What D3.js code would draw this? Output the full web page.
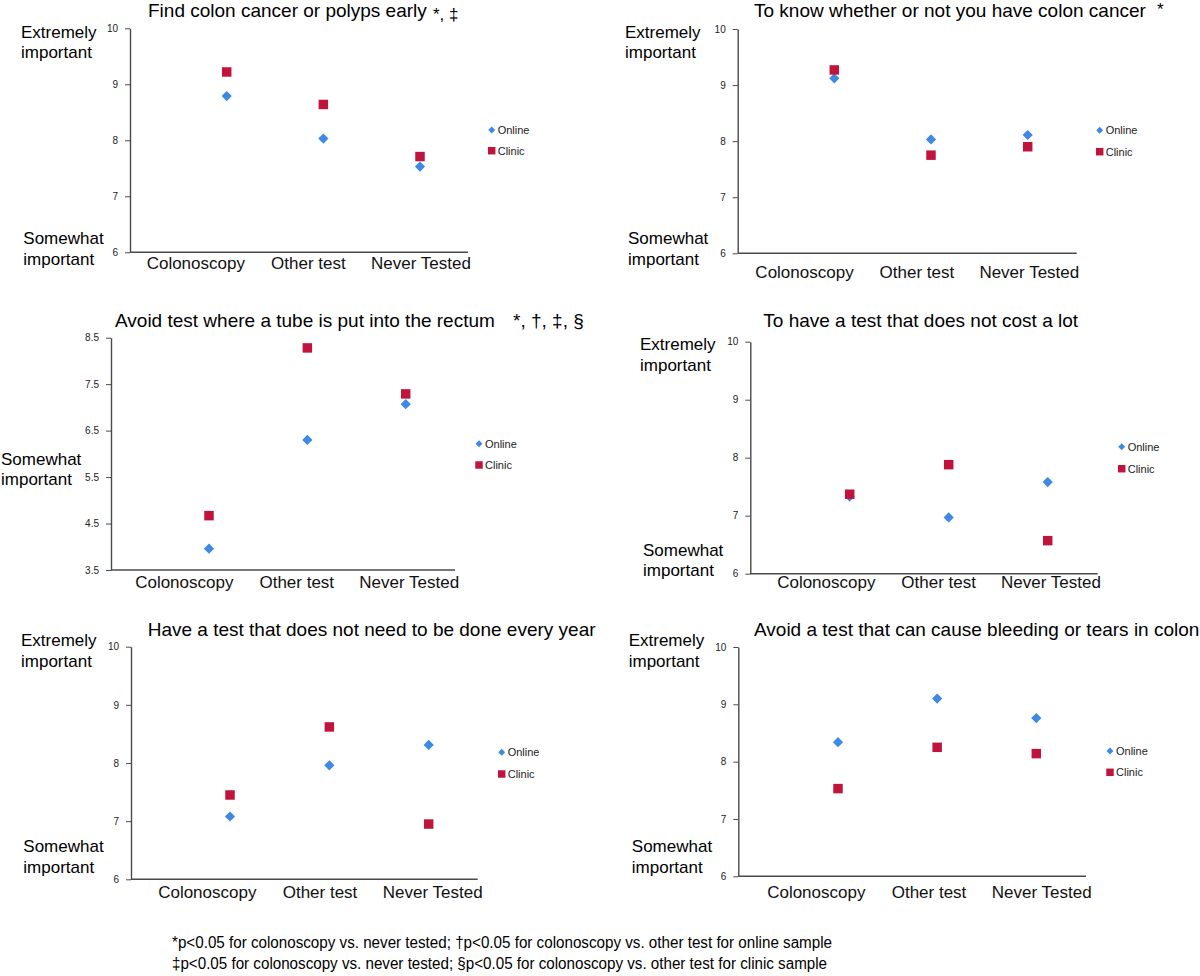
<!DOCTYPE html>
<html>
<head>
<meta charset="utf-8">
<script src="https://cdn.jsdelivr.net/npm/d3@7"></script>
<style>
  html, body { margin: 0; padding: 0; background: #fff; }
  svg { display: block; }
  text { font-family: "Liberation Sans", Arial, Helvetica, sans-serif; }
</style>
</head>
<body>
<svg id="chart" width="1200" height="976"></svg>
<script>
// ---------- data ----------
const categories = ["Colonoscopy", "Other test", "Never Tested"];
const seriesNames = ["Online", "Clinic"];

const titles = [
  "Find colon cancer or polyps early",
  "To know whether or not you have colon cancer",
  "Avoid test where a tube is put into the rectum",
  "To have a test that does not cost a lot",
  "Have a test that does not need to be done every year",
  "Avoid a test that can cause bleeding or tears in colon"
];
const titleMarks = ["*, \u2021", "*", "*, \u2020, \u2021, \u00a7", "", "", ""];

const online1 = [8.79, 8.03, 7.53];
const clinic1 = [9.22, 8.64, 7.71];
const online2 = [9.12, 8.03, 8.11];
const clinic2 = [9.27, 7.75, 7.90];
const online3 = [3.96, 6.30, 7.07];
const clinic3 = [4.67, 8.28, 7.29];
const online4 = [7.33, 6.97, 7.58];
const clinic4 = [7.37, 7.88, 6.57];
const online5 = [7.08, 7.96, 8.31];
const clinic5 = [7.45, 8.62, 6.95];
const online6 = [8.34, 9.10, 8.76];
const clinic6 = [7.53, 8.25, 8.14];

const ticksStandard = [6, 7, 8, 9, 10];
const ticksRectum = [3.5, 4.5, 5.5, 6.5, 7.5, 8.5];
const domainStandard = [6, 10];
const domainRectum = [3.5, 8.5];

const anchorTop = ["Extremely", "important"];
const anchorBottom = ["Somewhat", "important"];

const footnotes = [
  "*p<0.05 for colonoscopy vs. never tested; \u2020p<0.05 for colonoscopy vs. other test for online sample",
  "\u2021p<0.05 for colonoscopy vs. never tested; \u00a7p<0.05 for colonoscopy vs. other test for clinic sample"
];

// ---------- layout (positions / styles only) ----------
const layout = [
  { ax: 130,   top: 28.3,  bot: 252.3, end: 468,    pts: [226.7, 420],   lab: [195.3, 420.5], labY: 269,
    leg: [491.7, 130, 150.7], tx: 148, ty: 16.7, mx: 433, my: 20, msz: 17,
    ext: [21, 38.3, 58.3], som: [23.3, 244.3, 265] },
  { ax: 737.7, top: 29,    bot: 253.3, end: 1076.7, pts: [834.3, 1027.7], lab: [804, 1028.8], labY: 277.7,
    leg: [1099.7, 130.3, 151.7], tx: 754, ty: 16.5, mx: 1157, my: 15, msz: 17,
    ext: [625, 38, 58], som: [628, 244, 265] },
  { ax: 111,   top: 337.7, bot: 570,   end: 455,    pts: [209, 405.7],   lab: [183.8, 408.7], labY: 588,
    leg: [479, 443.7, 465], tx: 115, ty: 326.7, mx: 513, my: 326.7, msz: 19,
    ext: null, som: [1, 465, 485] },
  { ax: 750.3, top: 341.7, bot: 573.7, end: 1097.7, pts: [849.7, 1047.7], lab: [825.8, 1050.5], labY: 588.3,
    leg: [1121.7, 446.7, 468.7], tx: 763.3, ty: 326.7, mx: 0, my: 0, msz: 17,
    ext: [640, 350, 370.5], som: [643, 556, 576] },
  { ax: 131,   top: 646.7, bot: 879.3, end: 477.7,  pts: [230, 428.7],   lab: [206.8, 432.2], labY: 898.3,
    leg: [501.7, 752.3, 774], tx: 147.7, ty: 636, mx: 0, my: 0, msz: 17,
    ext: [21, 646, 666.7], som: [23.3, 852.3, 873.3] },
  { ax: 738.3, top: 647,   bot: 876.3, end: 1086,   pts: [838, 1036.3],  lab: [815.8, 1041.2], labY: 898.3,
    leg: [1110, 751, 772.3], tx: 754, ty: 636, mx: 0, my: 0, msz: 17,
    ext: [628.7, 646, 666.7], som: [631.8, 852, 873] }
];

const panels = [
  { online: online1, clinic: clinic1, domain: domainStandard, ticks: ticksStandard },
  { online: online2, clinic: clinic2, domain: domainStandard, ticks: ticksStandard },
  { online: online3, clinic: clinic3, domain: domainRectum,   ticks: ticksRectum },
  { online: online4, clinic: clinic4, domain: domainStandard, ticks: ticksStandard },
  { online: online5, clinic: clinic5, domain: domainStandard, ticks: ticksStandard },
  { online: online6, clinic: clinic6, domain: domainStandard, ticks: ticksStandard }
];

const BLUE = "#3d89e3";
const RED = "#c1143d";
const AXIS = "#4a4a4a";

// rotated-square diamond symbol (area = 2 r^2)
const diamondSym = {
  draw(ctx, size) {
    const r = Math.sqrt(size / 2);
    ctx.moveTo(0, -r); ctx.lineTo(r, 0); ctx.lineTo(0, r); ctx.lineTo(-r, 0); ctx.closePath();
  }
};

const svg = d3.select("#chart");

panels.forEach((p, i) => {
  const L = layout[i];
  const g = svg.append("g");

  const y = d3.scaleLinear().domain(p.domain).range([L.bot, L.top]);
  const x = d3.scalePoint().domain(categories).range(L.pts);
  const xl = d3.scalePoint().domain(categories).range(L.lab);

  // y axis
  const yAxis = d3.axisLeft(y).tickValues(p.ticks).tickSize(5).tickSizeOuter(0).tickPadding(7)
    .tickFormat(d => String(d));
  const ya = g.append("g").attr("transform", `translate(${L.ax},0)`).call(yAxis);
  ya.select(".domain").attr("stroke", AXIS).attr("stroke-width", 1.4);
  ya.selectAll(".tick line").attr("stroke", AXIS).attr("stroke-width", 1);
  ya.selectAll(".tick text").attr("font-size", 10).attr("fill", "#222")
    .style("font-family", "'Liberation Sans', Arial, sans-serif");

  // x axis line
  g.append("line").attr("x1", L.ax).attr("x2", L.end).attr("y1", L.bot).attr("y2", L.bot)
    .attr("stroke", AXIS).attr("stroke-width", 1.4);

  // x category labels
  const xAxis = d3.axisBottom(xl).tickSize(0).tickPadding(0);
  const xa = g.append("g").attr("transform", `translate(0,${L.labY})`).call(xAxis);
  xa.select(".domain").remove();
  xa.selectAll(".tick text").attr("dy", 0).attr("y", 0).attr("font-size", 17).attr("fill", "#111")
    .style("font-family", "'Liberation Sans', Arial, sans-serif");

  // markers: online diamonds, then clinic squares
  g.selectAll(".on").data(categories.map((c, k) => ({ c, v: p.online[k] }))).join("path")
    .attr("transform", d => `translate(${x(d.c)},${y(d.v)})`)
    .attr("d", d3.symbol().type(diamondSym).size(52))
    .attr("fill", BLUE);
  g.selectAll(".cl").data(categories.map((c, k) => ({ c, v: p.clinic[k] }))).join("path")
    .attr("transform", d => `translate(${x(d.c)},${y(d.v)})`)
    .attr("d", d3.symbol().type(d3.symbolSquare).size(90))
    .attr("fill", RED);

  // legend
  const [lx, ly1, ly2] = L.leg;
  g.append("path").attr("transform", `translate(${lx},${ly1})`)
    .attr("d", d3.symbol().type(diamondSym).size(24)).attr("fill", BLUE);
  g.append("path").attr("transform", `translate(${lx},${ly2})`)
    .attr("d", d3.symbol().type(d3.symbolSquare).size(56)).attr("fill", RED);
  [ly1, ly2].forEach((ly, k) => {
    g.append("text").attr("x", lx + 6).attr("y", ly + 4).attr("font-size", 11).attr("fill", "#222")
      .text(seriesNames[k]);
  });

  // title
  g.append("text").attr("x", L.tx).attr("y", L.ty).attr("font-size", 19).attr("fill", "#000")
    .text(titles[i]);
  if (titleMarks[i]) {
    g.append("text").attr("x", L.mx).attr("y", L.my).attr("font-size", L.msz).attr("fill", "#000")
      .text(titleMarks[i]);
  }

  // anchor labels
  if (L.ext) {
    anchorTop.forEach((t, k) => g.append("text").attr("x", L.ext[0]).attr("y", L.ext[1 + k])
      .attr("font-size", 17).attr("fill", "#000").text(t));
  }
  anchorBottom.forEach((t, k) => g.append("text").attr("x", L.som[0]).attr("y", L.som[1 + k])
    .attr("font-size", 17).attr("fill", "#000").text(t));
});

// footnotes
const footWidths = [660, 655];
footnotes.forEach((t, k) => {
  svg.append("text").attr("x", 172).attr("y", 948 + k * 21)
    .attr("font-size", 16).attr("fill", "#000")
    .attr("textLength", footWidths[k]).attr("lengthAdjust", "spacingAndGlyphs")
    .style("font-family", "'Liberation Sans Narrow', 'Arial Narrow', 'Liberation Sans', sans-serif")
    .text(t);
});
</script>
</body>
</html>
